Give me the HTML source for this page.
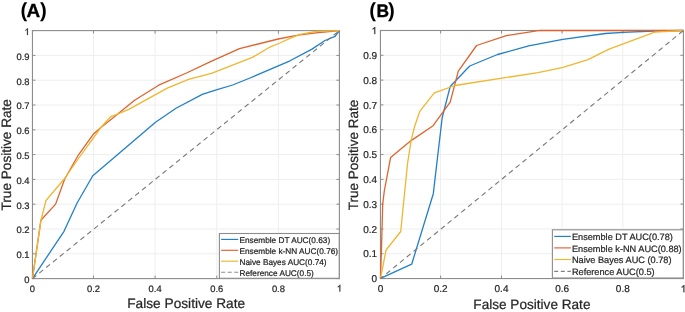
<!DOCTYPE html><html><head><meta charset="utf-8"><style>html,body{margin:0;padding:0;background:#fff;}svg{display:block;will-change:transform;filter:blur(0.25px);}text{font-family:"Liberation Sans", sans-serif;text-rendering:geometricPrecision;}.t{stroke:#262626;stroke-width:0.22px;}</style></head><body>
<svg width="685" height="312" viewBox="0 0 685 312">
<rect width="685" height="312" fill="#fff"/>
<path d="M93.45 30.6V278.6M155.1 30.6V278.6M216.75 30.6V278.6M278.4 30.6V278.6M32.45 253.8H339.4M32.45 229H339.4M32.45 204.2H339.4M32.45 179.4H339.4M32.45 154.6H339.4M32.45 129.8H339.4M32.45 105H339.4M32.45 80.2H339.4M32.45 55.4H339.4" stroke="#eeeeee" stroke-width="1" fill="none"/>
<path d="M32.45 278.6V275.6M32.45 30.6V33.6M93.45 278.6V275.6M93.45 30.6V33.6M155.1 278.6V275.6M155.1 30.6V33.6M216.75 278.6V275.6M216.75 30.6V33.6M278.4 278.6V275.6M278.4 30.6V33.6M339.4 278.6V275.6M339.4 30.6V33.6M32.45 278.6H35.45M339.4 278.6H336.4M32.45 253.8H35.45M339.4 253.8H336.4M32.45 229H35.45M339.4 229H336.4M32.45 204.2H35.45M339.4 204.2H336.4M32.45 179.4H35.45M339.4 179.4H336.4M32.45 154.6H35.45M339.4 154.6H336.4M32.45 129.8H35.45M339.4 129.8H336.4M32.45 105H35.45M339.4 105H336.4M32.45 80.2H35.45M339.4 80.2H336.4M32.45 55.4H35.45M339.4 55.4H336.4M32.45 30.6H35.45M339.4 30.6H336.4" stroke="#8c8c8c" stroke-width="1" fill="none"/>
<rect x="32.45" y="30.6" width="306.95" height="248" stroke="#8c8c8c" stroke-width="1.1" fill="none"/>
<path d="M32.45 278.6 L64 231.3 L77.1 203 L92.8 175.8 L155.5 122.2 L176 108.3 L202.3 94.4 L216.3 89.9 L232.7 85 L250 78 L290 60.8 L312 49.1 L325 40.5 L335.1 36.4 L339.4 30.6" stroke="#2280c9" stroke-width="1.3" fill="none" stroke-linejoin="round"/>
<path d="M32.45 278.6 L40.9 220.3 L55.6 204.1 L64.6 179.2 L78.5 154.8 L93.2 134.3 L101.2 127.3 L111.3 119.3 L134.6 100.2 L158.7 85.2 L186.5 73 L210 61.8 L239.5 48.6 L278.2 39 L292.8 36.2 L300 34.8 L316 32.9 L339.4 30.6" stroke="#df632e" stroke-width="1.3" fill="none" stroke-linejoin="round"/>
<path d="M32.45 278.6 L40.9 220.3 L46 200.5 L64.2 179 L79.9 156.5 L94.8 136 L100.6 127.8 L110.6 116.7 L116.3 114.6 L128.8 109.4 L167.3 88.1 L188.5 79.4 L211.5 73.3 L252.4 57.4 L270.4 46.8 L280 43 L291 37.8 L300 34.3 L316 31.4 L339.4 30.6" stroke="#efb630" stroke-width="1.3" fill="none" stroke-linejoin="round"/>
<path d="M32.45 278.6L339.4 30.6" stroke="#777777" stroke-width="1.1" stroke-dasharray="5 3.8" stroke-dashoffset="0" fill="none"/>
<text x="29.55" y="283" font-size="9.4" fill="#262626" class="t" text-anchor="end">0</text>
<text x="29.55" y="258.2" font-size="9.4" fill="#262626" class="t" text-anchor="end">0.1</text>
<text x="29.55" y="233.4" font-size="9.4" fill="#262626" class="t" text-anchor="end">0.2</text>
<text x="29.55" y="208.6" font-size="9.4" fill="#262626" class="t" text-anchor="end">0.3</text>
<text x="29.55" y="183.8" font-size="9.4" fill="#262626" class="t" text-anchor="end">0.4</text>
<text x="29.55" y="159" font-size="9.4" fill="#262626" class="t" text-anchor="end">0.5</text>
<text x="29.55" y="134.2" font-size="9.4" fill="#262626" class="t" text-anchor="end">0.6</text>
<text x="29.55" y="109.4" font-size="9.4" fill="#262626" class="t" text-anchor="end">0.7</text>
<text x="29.55" y="84.6" font-size="9.4" fill="#262626" class="t" text-anchor="end">0.8</text>
<text x="29.55" y="59.8" font-size="9.4" fill="#262626" class="t" text-anchor="end">0.9</text>
<path transform="translate(24.32 35) scale(0.00459 -0.00459)" d="M763 0H583V1147Q518 1085 412 1023Q306 961 222 930V1104Q373 1175 486 1276Q599 1377 646 1472H763Z" fill="#262626" stroke="#262626" stroke-width="47.93"/>
<text x="32.45" y="291.6" font-size="9.4" fill="#262626" class="t" text-anchor="middle">0</text>
<text x="93.45" y="291.6" font-size="9.4" fill="#262626" class="t" text-anchor="middle">0.2</text>
<text x="155.1" y="291.6" font-size="9.4" fill="#262626" class="t" text-anchor="middle">0.4</text>
<text x="216.75" y="291.6" font-size="9.4" fill="#262626" class="t" text-anchor="middle">0.6</text>
<text x="278.4" y="291.6" font-size="9.4" fill="#262626" class="t" text-anchor="middle">0.8</text>
<path transform="translate(336.79 291.6) scale(0.00459 -0.00459)" d="M763 0H583V1147Q518 1085 412 1023Q306 961 222 930V1104Q373 1175 486 1276Q599 1377 646 1472H763Z" fill="#262626" stroke="#262626" stroke-width="47.93"/>
<text x="186.2" y="307.6" font-size="13.7" fill="#262626" class="t" text-anchor="middle">False Positive Rate</text>
<text transform="translate(10.9 154.8) rotate(-90)" font-size="13.6" fill="#262626" class="t" text-anchor="middle">True Positive Rate</text>
<text x="20.6" y="16.6" font-size="20.3" font-weight="bold" fill="#000">(</text>
<text transform="translate(26.4 16.5) scale(1.0 1)" font-size="18.9" font-weight="bold" fill="#000" stroke="#000" stroke-width="0.35">A</text>
<text x="40.1" y="16.6" font-size="20.3" font-weight="bold" fill="#000">)</text>
<rect x="219.4" y="233.5" width="119.8" height="44.8" fill="#fff" stroke="#8c8c8c" stroke-width="1.1"/>
<path d="M221.1 239.4H238.2" stroke="#2280c9" stroke-width="1.15"/>
<text x="239.5" y="243" font-size="8.25" fill="#262626" class="t">Ensemble DT AUC(0.63)</text>
<path d="M221.1 250.3H238.2" stroke="#df632e" stroke-width="1.15"/>
<text x="239.5" y="253.9" font-size="8.25" fill="#262626" class="t">Ensemble k-NN AUC(0.76)</text>
<path d="M221.1 261.2H238.2" stroke="#efb630" stroke-width="1.15"/>
<text x="239.5" y="264.8" font-size="8.25" fill="#262626" class="t">Naive Bayes AUC(0.74)</text>
<path d="M221.1 272.2H238.2" stroke="#8a8a8a" stroke-width="1.1" stroke-dasharray="4 2.6"/>
<text x="239.5" y="275.8" font-size="8.25" fill="#262626" class="t">Reference AUC(0.5)</text>
<path d="M440.6 30.5V278.55M501.5 30.5V278.55M562.1 30.5V278.55M622.8 30.5V278.55M380.45 253.75H683.4M380.45 228.94H683.4M380.45 204.13H683.4M380.45 179.33H683.4M380.45 154.53H683.4M380.45 129.72H683.4M380.45 104.91H683.4M380.45 80.11H683.4M380.45 55.31H683.4" stroke="#eeeeee" stroke-width="1" fill="none"/>
<path d="M380.45 278.55V275.55M380.45 30.5V33.5M440.6 278.55V275.55M440.6 30.5V33.5M501.5 278.55V275.55M501.5 30.5V33.5M562.1 278.55V275.55M562.1 30.5V33.5M622.8 278.55V275.55M622.8 30.5V33.5M683.4 278.55V275.55M683.4 30.5V33.5M380.45 278.55H383.45M683.4 278.55H680.4M380.45 253.75H383.45M683.4 253.75H680.4M380.45 228.94H383.45M683.4 228.94H680.4M380.45 204.13H383.45M683.4 204.13H680.4M380.45 179.33H383.45M683.4 179.33H680.4M380.45 154.53H383.45M683.4 154.53H680.4M380.45 129.72H383.45M683.4 129.72H680.4M380.45 104.91H383.45M683.4 104.91H680.4M380.45 80.11H383.45M683.4 80.11H680.4M380.45 55.31H383.45M683.4 55.31H680.4M380.45 30.5H383.45M683.4 30.5H680.4" stroke="#8c8c8c" stroke-width="1" fill="none"/>
<rect x="380.45" y="30.5" width="302.95" height="248.05" stroke="#8c8c8c" stroke-width="1.1" fill="none"/>
<path d="M380.5 278.4 L411.7 264.2 L433.3 193.7 L442.2 117.5 L450.2 86.5 L469.7 66 L497.5 54.5 L528.7 45.9 L562.8 39.3 L605.4 33.5 L623 32.3 L654 31 L683.4 30.5" stroke="#2280c9" stroke-width="1.3" fill="none" stroke-linejoin="round"/>
<path d="M380.5 278.4 L381.6 245 L382.7 204.2 L384.3 191 L390.6 157.6 L411.1 140.6 L433.1 125.7 L450.2 102.1 L458.3 71.2 L476.6 45.5 L506.3 35.6 L540 30.4 L683.4 30.5" stroke="#df632e" stroke-width="1.3" fill="none" stroke-linejoin="round"/>
<path d="M380.5 278.4 L386.1 250 L400.7 231.5 L407.6 163 L411.1 140.6 L414.6 126.5 L419.8 111.3 L434.3 92.9 L455 85.5 L538 72.6 L563.1 67.3 L588 59.6 L609.1 49.1 L654.8 32.2 L683.4 30.5" stroke="#efb630" stroke-width="1.3" fill="none" stroke-linejoin="round"/>
<path d="M380.45 278.55L683.4 30.5" stroke="#777777" stroke-width="1.1" stroke-dasharray="5 3.8" stroke-dashoffset="1.2" fill="none"/>
<text x="377.05" y="282.15" font-size="10" fill="#262626" class="t" text-anchor="end">0</text>
<text x="377.05" y="257.35" font-size="10" fill="#262626" class="t" text-anchor="end">0.1</text>
<text x="377.05" y="232.54" font-size="10" fill="#262626" class="t" text-anchor="end">0.2</text>
<text x="377.05" y="207.73" font-size="10" fill="#262626" class="t" text-anchor="end">0.3</text>
<text x="377.05" y="182.93" font-size="10" fill="#262626" class="t" text-anchor="end">0.4</text>
<text x="377.05" y="158.12" font-size="10" fill="#262626" class="t" text-anchor="end">0.5</text>
<text x="377.05" y="133.32" font-size="10" fill="#262626" class="t" text-anchor="end">0.6</text>
<text x="377.05" y="108.51" font-size="10" fill="#262626" class="t" text-anchor="end">0.7</text>
<text x="377.05" y="83.71" font-size="10" fill="#262626" class="t" text-anchor="end">0.8</text>
<text x="377.05" y="58.91" font-size="10" fill="#262626" class="t" text-anchor="end">0.9</text>
<path transform="translate(371.49 34.1) scale(0.00488 -0.00488)" d="M763 0H583V1147Q518 1085 412 1023Q306 961 222 930V1104Q373 1175 486 1276Q599 1377 646 1472H763Z" fill="#262626" stroke="#262626" stroke-width="45.06"/>
<text x="380.45" y="292.2" font-size="10" fill="#262626" class="t" text-anchor="middle">0</text>
<text x="440.6" y="292.2" font-size="10" fill="#262626" class="t" text-anchor="middle">0.2</text>
<text x="501.5" y="292.2" font-size="10" fill="#262626" class="t" text-anchor="middle">0.4</text>
<text x="562.1" y="292.2" font-size="10" fill="#262626" class="t" text-anchor="middle">0.6</text>
<text x="622.8" y="292.2" font-size="10" fill="#262626" class="t" text-anchor="middle">0.8</text>
<path transform="translate(680.62 292.2) scale(0.00488 -0.00488)" d="M763 0H583V1147Q518 1085 412 1023Q306 961 222 930V1104Q373 1175 486 1276Q599 1377 646 1472H763Z" fill="#262626" stroke="#262626" stroke-width="45.06"/>
<text x="531.9" y="309.2" font-size="13.6" fill="#262626" class="t" text-anchor="middle">False Positive Rate</text>
<text transform="translate(357.8 154.9) rotate(-90)" font-size="13.5" fill="#262626" class="t" text-anchor="middle">True Positive Rate</text>
<text x="369.3" y="16.6" font-size="20.3" font-weight="bold" fill="#000">(</text>
<text transform="translate(376.5 16.5) scale(0.96 1)" font-size="18.1" font-weight="bold" fill="#000" stroke="#000" stroke-width="0.35">B</text>
<text x="388" y="16.6" font-size="20.3" font-weight="bold" fill="#000">)</text>
<rect x="552.4" y="229.8" width="130.8" height="48.2" fill="#fff" stroke="#8c8c8c" stroke-width="1.1"/>
<path d="M554.2 236.4H570.9" stroke="#2280c9" stroke-width="1.15"/>
<text x="571.9" y="240.2" font-size="9.2" fill="#262626" class="t">Ensemble DT AUC(0.78)</text>
<path d="M554.2 247.9H570.9" stroke="#df632e" stroke-width="1.15"/>
<text x="571.9" y="251.7" font-size="9.2" fill="#262626" class="t">Ensemble k-NN AUC(0.88)</text>
<path d="M554.2 259.5H570.9" stroke="#efb630" stroke-width="1.15"/>
<text x="571.9" y="263.3" font-size="9.2" fill="#262626" class="t">Naive Bayes AUC (0.78)</text>
<path d="M554.2 271.3H570.9" stroke="#505050" stroke-width="0.9" stroke-dasharray="4 2.6"/>
<text x="571.9" y="275.1" font-size="9.2" fill="#262626" class="t">Reference AUC(0.5)</text>
</svg></body></html>
